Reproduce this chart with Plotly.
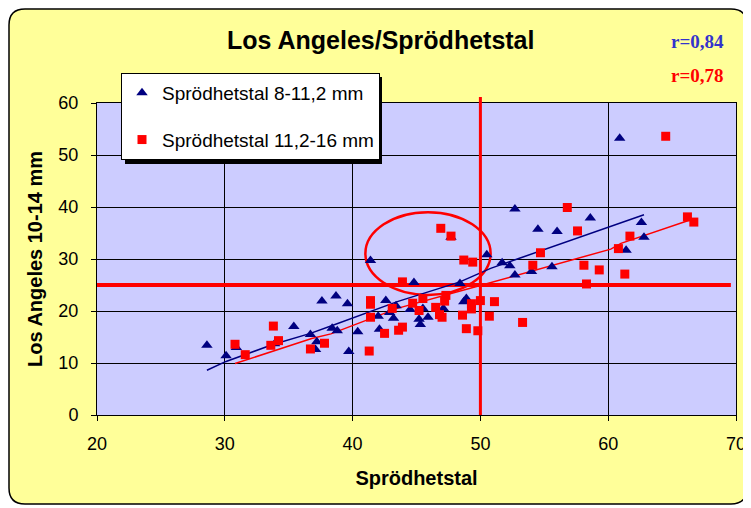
import plotly.graph_objects as go

# ---------------- data ----------------
blue_x = [28.6, 30.1, 30.9, 33.9, 35.4, 36.7, 37.2, 37.1, 38.4, 38.8, 37.6, 38.7, 39.6,
          39.7, 40.4, 41.4, 42.0, 42.1, 42.6, 42.9, 43.2, 43.4, 44.5, 44.8, 45.2, 45.3,
          45.5, 45.9, 47.1, 47.7, 48.4, 48.7, 48.9, 50.5, 51.7, 52.3, 52.7, 52.7, 54.0,
          54.5, 55.6, 56.0, 58.6, 60.9, 61.4, 62.6, 62.8]
blue_y = [13.4, 11.4, 13.0, 13.7, 17.0, 15.5, 14.1, 12.6, 16.7, 16.2, 21.9, 22.9, 21.4,
          12.2, 16.0, 29.7, 19.0, 16.5, 22.0, 19.7, 18.6, 21.0, 20.3, 25.5, 18.4, 17.4,
          20.5, 18.8, 20.5, 34.2, 25.3, 21.8, 22.4, 30.8, 29.3, 28.7, 26.9, 39.6, 27.6,
          35.7, 28.5, 35.3, 37.9, 53.2, 31.7, 37.0, 34.2]

red_x = [30.8, 31.6, 33.6, 33.8, 34.2, 36.7, 37.8, 41.3, 41.4, 41.4, 41.4, 42.5, 43.1,
         43.6, 43.9, 43.9, 44.7, 45.2, 45.5, 46.5, 46.8, 47.0, 47.2, 47.3, 46.9, 47.7,
         48.7, 49.4, 48.6, 48.9, 49.3, 49.3, 49.8, 50.0, 50.7, 51.1, 53.3, 54.1, 54.7,
         56.8, 57.6, 58.1, 58.3, 59.3, 60.8, 61.3, 61.7, 64.5, 66.2, 66.7]
red_y = [13.6, 11.6, 13.4, 17.1, 14.3, 12.7, 13.8, 12.3, 22.0, 21.3, 18.8, 15.7, 20.5,
         16.3, 16.9, 25.6, 21.5, 20.1, 22.4, 20.7, 19.3, 18.8, 21.9, 23.0, 35.9, 34.4,
         29.8, 29.4, 19.2, 16.6, 21.4, 20.4, 16.2, 22.0, 19.0, 21.8, 17.8, 28.8, 31.2,
         39.9, 35.4, 28.8, 25.2, 27.9, 32.0, 27.1, 34.4, 53.6, 38.1, 37.1]

# trend lines
blue_trend_x = [28.6, 30.1, 33.7, 36.7, 38.3, 43.5, 48.4, 50.8, 53.0, 56.8, 60.9, 62.8]
blue_trend_y = [8.6, 10.3, 13.5, 15.7, 17.1, 21.8, 25.6, 28.2, 30.1, 33.3, 36.9, 38.5]
red_trend_x = [30.8, 33.7, 36.8, 38.3, 43.5, 49.7, 51.6, 56.8, 60.2, 61.0, 66.4]
red_trend_y = [9.9, 12.2, 14.7, 15.6, 20.5, 24.7, 26.0, 29.7, 31.9, 33.0, 37.5]

series_names = ["Sprödhetstal 8-11,2 mm", "Sprödhetstal 11,2-16 mm"]
r_labels = ["r=0,84", "r=0,78"]
x_ticks = [20, 30, 40, 50, 60, 70]
y_ticks = [0, 10, 20, 30, 40, 50, 60]
limit_x = 50
limit_y = 25

# ---------------- layout helpers ----------------
OFF = 8                      # page body margin in front of the figure
W, H = 751 - OFF, 508 - OFF  # figure size
# plot area in page pixels
L, R, T, B = 97, 736, 103, 415


def px(xp):
    return (xp - L) / (R - L)


def py(yp):
    return (B - yp) / (B - T)


NAVY = "#000080"
RED = "#FF0000"
FONT = "Liberation Sans, Arial, sans-serif"
SERIF = "Liberation Serif, Times New Roman, serif"

fig = go.Figure()

fig.add_trace(go.Scatter(x=blue_trend_x, y=blue_trend_y, mode="lines",
                         line=dict(color=NAVY, width=1.5), showlegend=False,
                         hoverinfo="skip"))
fig.add_trace(go.Scatter(x=red_trend_x, y=red_trend_y, mode="lines",
                         line=dict(color=RED, width=1.5), showlegend=False,
                         hoverinfo="skip"))
fig.add_trace(go.Scatter(x=blue_x, y=blue_y, mode="markers", name=series_names[0],
                         legendgroup="a",
                         marker=dict(symbol="triangle-up", size=10, color=NAVY)))
fig.add_trace(go.Scatter(x=red_x, y=red_y, mode="markers", name=series_names[1],
                         legendgroup="b",
                         marker=dict(symbol="square", size=9, color=RED)))

# rounded yellow frame (page pixels)
x0, x1, y0, y1 = px(OFF + 1), px(747), py(504), py(OFF + 1)
rx, ry = 16 / (R - L), 16 / (B - T)
path = (f"M {x0+rx},{y0} L {x1-rx},{y0} Q {x1},{y0} {x1},{y0+ry} "
        f"L {x1},{y1-ry} Q {x1},{y1} {x1-rx},{y1} L {x0+rx},{y1} "
        f"Q {x0},{y1} {x0},{y1-ry} L {x0},{y0+ry} Q {x0},{y0} {x0+rx},{y0} Z")
shapes = [
    dict(type="path", xref="paper", yref="paper", path=path, layer="below",
         fillcolor="#FFFF99", line=dict(color="black", width=1.5)),
    dict(type="rect", xref="x", yref="y", x0=20, x1=70, y0=0, y1=60, layer="below",
         fillcolor="#CCCCFF", line=dict(width=0)),
    # limit lines and ellipse
    dict(type="line", xref="x", yref="y", x0=20, x1=69.6, y0=limit_y, y1=limit_y,
         layer="between", line=dict(color=RED, width=4)),
    dict(type="line", xref="x", yref="paper", x0=limit_x, x1=limit_x, y0=0, y1=py(97),
         layer="above", line=dict(color=RED, width=3)),
    dict(type="circle", xref="x", yref="y", x0=41.0, x1=50.8, y0=23.1, y1=39.0,
         layer="between", line=dict(color=RED, width=2.5)),
    # legend shadow
    dict(type="rect", xref="paper", yref="paper", x0=px(125), x1=px(382),
         y0=py(164), y1=py(77), fillcolor="black", line=dict(width=0), layer="above"),
]

annotations = [
    dict(text="<b>Los Angeles/Sprödhetstal</b>", xref="paper", yref="paper",
         x=px(380), y=py(40), showarrow=False, font=dict(family=FONT, size=25, color="black"),
         xanchor="center", yanchor="middle"),
    dict(text=f"<b>{r_labels[0]}</b>", xref="paper", yref="paper", x=px(697), y=py(41),
         showarrow=False, font=dict(family=SERIF, size=19, color="#3333CC"),
         xanchor="center", yanchor="middle"),
    dict(text=f"<b>{r_labels[1]}</b>", xref="paper", yref="paper", x=px(697), y=py(75),
         showarrow=False, font=dict(family=SERIF, size=19, color=RED),
         xanchor="center", yanchor="middle"),
]

fig.update_layout(
    width=W, height=H,
    margin=dict(l=L - OFF, r=W - (R - OFF), t=T - OFF, b=H - (B - OFF), autoexpand=False),
    paper_bgcolor="white",
    plot_bgcolor="#CCCCFF",
    font=dict(family=FONT, size=18, color="black"),
    shapes=shapes,
    annotations=annotations,
    legend=dict(x=px(121), y=py(73), xanchor="left", yanchor="top",
                bgcolor="white", bordercolor="black", borderwidth=1,
                font=dict(family=FONT, size=19, color="black"),
                traceorder="grouped", tracegroupgap=19),
    xaxis=dict(range=[20, 70], tickvals=x_ticks, showgrid=True, gridcolor="black",
               gridwidth=1, showline=True, linecolor="black", linewidth=1, mirror=True,
               ticks="outside", ticklen=5, tickcolor="black", zeroline=False,
               ticklabelstandoff=7,
               title=dict(text="<b>Sprödhetstal</b>", font=dict(size=20), standoff=18),
               tickfont=dict(size=18)),
    yaxis=dict(range=[0, 60], tickvals=y_ticks, showgrid=True, gridcolor="black",
               gridwidth=1, showline=True, linecolor="black", linewidth=1, mirror=True,
               ticks="outside", ticklen=5, tickcolor="black", zeroline=False,
               ticklabelstandoff=9,
               title=dict(text="<b>Los Angeles 10-14 mm</b>", font=dict(size=20),
                          standoff=10),
               tickfont=dict(size=18)),
)

fig.write_html("out.html")
